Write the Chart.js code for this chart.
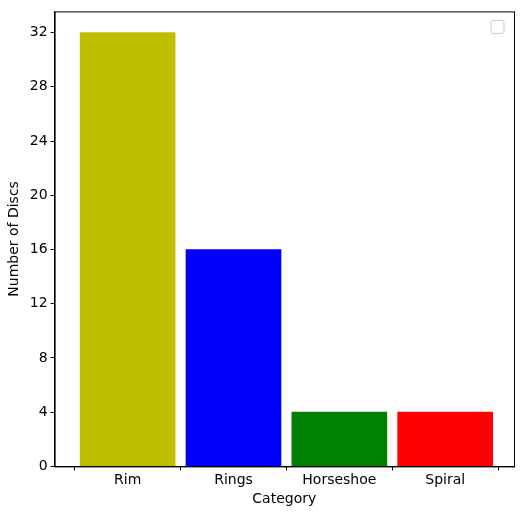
<!DOCTYPE html>
<html><head><script src="https://cdn.jsdelivr.net/npm/chart.js@4"></script>
<style>body{margin:0;background:#fff}#w{width:520px;height:516px}</style></head>
<body><div id="w"><canvas id="c"></canvas></div>
<script>
const categories=["Rim","Rings","Horseshoe","Spiral"];
const values=[32,16,4,4];
const colors=["#bfbf00","#0000ff","#008000","#ff0000"];
const yTicks=[0,4,8,12,16,20,24,28,32];
const font={family:"DejaVu Sans",size:14};
const frame={id:'frame',afterDraw(ch){const a=ch.chartArea,c=ch.ctx;c.save();c.strokeStyle='#000';c.lineWidth=1;c.strokeRect(a.left+0.5,a.top+0.5,a.right-a.left,a.bottom-a.top);
c.strokeStyle='#ccc';c.beginPath();c.roundRect(a.right-23,a.top+9,13,13,2);c.stroke();c.restore();}};
const grid={display:true,drawOnChartArea:false,drawTicks:true,tickLength:4,color:'#000'};
new Chart(document.getElementById('c'),{type:'bar',
data:{datasets:[{data:values.map((v,i)=>({x:i,y:v})),backgroundColor:colors,barThickness:95}]},
options:{responsive:true,maintainAspectRatio:false,animation:false,
layout:{padding:{top:5,right:6,left:2,bottom:4}},
plugins:{legend:{display:false},tooltip:{enabled:false}},
scales:{
x:{type:'linear',offset:false,min:-0.69,max:3.65,grid,border:{color:'#000'},
afterBuildTicks(s){s.ticks=categories.map((c,i)=>({value:i}));},
ticks:{color:'#000',font,callback:v=>categories[v],padding:2},
title:{display:true,text:'Category',color:'#000',font,padding:{top:0}}},
y:{min:0,max:33.56,grid,border:{color:'#000'},
afterBuildTicks(s){s.ticks=yTicks.map(v=>({value:v}));},
ticks:{color:'#000',font,padding:3},
title:{display:true,text:'Number of Discs',color:'#000',font}}}},
plugins:[frame]});
</script></body></html>
